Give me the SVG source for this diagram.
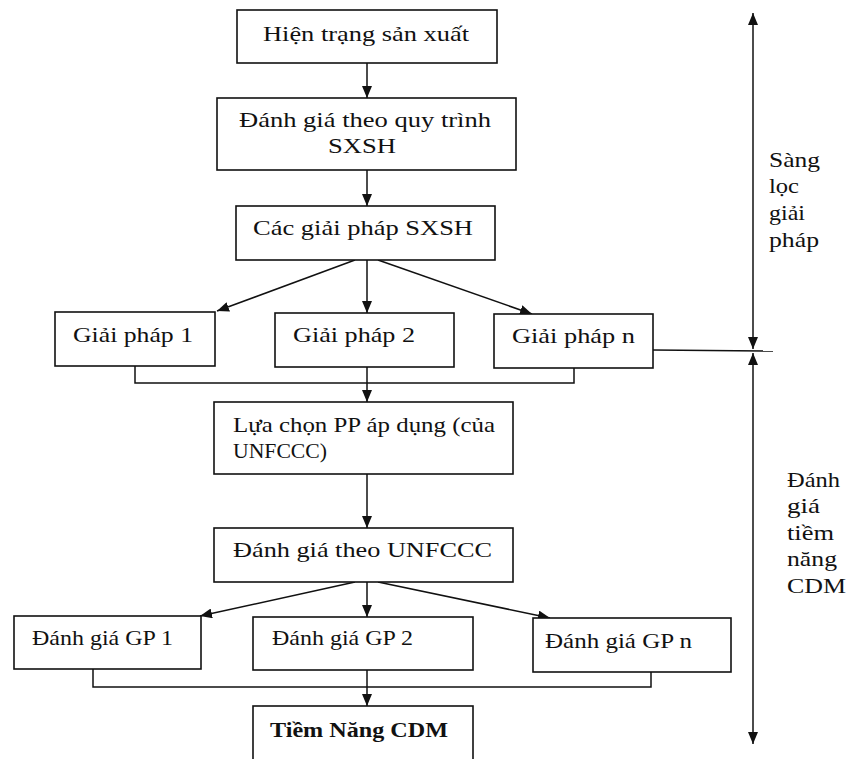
<svg xmlns="http://www.w3.org/2000/svg" width="849" height="759" viewBox="0 0 849 759">
<defs>
<style>
.box{fill:#fff;stroke:#111;stroke-width:1.6}
.t{font-family:"Liberation Serif","Times New Roman",serif;font-size:21px;fill:#111}
.b{font-weight:bold;font-size:22px}
.ln{fill:none;stroke:#111;stroke-width:1.5}
</style>
<marker id="ah" viewBox="0 0 12 10" refX="12" refY="5" markerWidth="12" markerHeight="10" markerUnits="userSpaceOnUse" orient="auto-start-reverse">
<path d="M0,0 L12,5 L0,10 Z" fill="#111"/>
</marker>
</defs>
<rect width="849" height="759" fill="#fff"/>

<g id="connectors">
<line class="ln" x1="367" y1="63" x2="367" y2="98" marker-end="url(#ah)"/>
<line class="ln" x1="367" y1="170" x2="367" y2="206" marker-end="url(#ah)"/>
<line class="ln" x1="355" y1="260" x2="217" y2="311" marker-end="url(#ah)"/>
<line class="ln" x1="367" y1="260" x2="367" y2="313" marker-end="url(#ah)"/>
<line class="ln" x1="378" y1="260" x2="532" y2="314" marker-end="url(#ah)"/>
<polyline class="ln" points="135,366 135,383 574,383 574,368"/>
<line class="ln" x1="367" y1="367" x2="367" y2="402" marker-end="url(#ah)"/>
<line class="ln" x1="367" y1="474" x2="367" y2="528" marker-end="url(#ah)"/>
<line class="ln" x1="355" y1="582" x2="200" y2="616" marker-end="url(#ah)"/>
<line class="ln" x1="367" y1="582" x2="367" y2="617" marker-end="url(#ah)"/>
<line class="ln" x1="378" y1="582" x2="550" y2="618" marker-end="url(#ah)"/>
<polyline class="ln" points="93,669 93,687 651,687 651,672"/>
<line class="ln" x1="367" y1="670" x2="367" y2="706" marker-end="url(#ah)"/>
<line class="ln" x1="653" y1="350" x2="773" y2="351"/>
<line class="ln" x1="753" y1="13" x2="753" y2="349" marker-start="url(#ah)" marker-end="url(#ah)"/>
<line class="ln" x1="753" y1="353" x2="753" y2="744" marker-start="url(#ah)" marker-end="url(#ah)"/>
</g>

<g id="n1"><rect class="box" x="237" y="10" width="260" height="53"/><text class="t" x="263" y="41" textLength="206" lengthAdjust="spacingAndGlyphs">Hiện trạng sản xuất</text></g>
<g id="n2"><rect class="box" x="217" y="98" width="299" height="72"/><text class="t" x="239" y="127" textLength="252" lengthAdjust="spacingAndGlyphs">Đánh giá theo quy trình</text><text class="t" x="328" y="153" textLength="68" lengthAdjust="spacingAndGlyphs">SXSH</text></g>
<g id="n3"><rect class="box" x="236" y="206" width="259" height="54"/><text class="t" x="253" y="235" textLength="220" lengthAdjust="spacingAndGlyphs">Các giải pháp SXSH</text></g>
<g id="gp1"><rect class="box" x="55" y="312" width="160" height="54"/><text class="t" x="73" y="342" textLength="120" lengthAdjust="spacingAndGlyphs">Giải pháp 1</text></g>
<g id="gp2"><rect class="box" x="275" y="313" width="179" height="54"/><text class="t" x="293" y="342" textLength="122" lengthAdjust="spacingAndGlyphs">Giải pháp 2</text></g>
<g id="gpn"><rect class="box" x="494" y="314" width="159" height="54"/><text class="t" x="512" y="343" textLength="123" lengthAdjust="spacingAndGlyphs">Giải pháp n</text></g>
<g id="n4"><rect class="box" x="214" y="402" width="299" height="72"/><text class="t" x="233" y="432" textLength="262" lengthAdjust="spacingAndGlyphs">Lựa chọn PP áp dụng (của</text><text class="t" x="233" y="458" textLength="94" lengthAdjust="spacingAndGlyphs">UNFCCC)</text></g>
<g id="n5"><rect class="box" x="214" y="528" width="299" height="54"/><text class="t" x="233" y="557" textLength="259" lengthAdjust="spacingAndGlyphs">Đánh giá theo UNFCCC</text></g>
<g id="dg1"><rect class="box" x="14" y="616" width="187" height="53"/><text class="t" x="32" y="645" textLength="141" lengthAdjust="spacingAndGlyphs">Đánh giá GP 1</text></g>
<g id="dg2"><rect class="box" x="253" y="617" width="220" height="53"/><text class="t" x="272" y="645" textLength="141" lengthAdjust="spacingAndGlyphs">Đánh giá GP 2</text></g>
<g id="dgn"><rect class="box" x="533" y="618" width="198" height="54"/><text class="t" x="545" y="648" textLength="147" lengthAdjust="spacingAndGlyphs">Đánh giá GP n</text></g>
<g id="n6"><rect class="box" x="253" y="706" width="220" height="60"/><text class="t b" x="270" y="737" textLength="178" lengthAdjust="spacingAndGlyphs">Tiềm Năng CDM</text></g>

<g id="label1"><text class="t" x="769" y="167" textLength="51" lengthAdjust="spacingAndGlyphs">Sàng</text><text class="t" x="769" y="193" textLength="30" lengthAdjust="spacingAndGlyphs">lọc</text><text class="t" x="769" y="220" textLength="36" lengthAdjust="spacingAndGlyphs">giải</text><text class="t" x="769" y="247" textLength="50" lengthAdjust="spacingAndGlyphs">pháp</text></g>
<g id="label2"><text class="t" x="787" y="487" textLength="53" lengthAdjust="spacingAndGlyphs">Đánh</text><text class="t" x="787" y="513" textLength="33" lengthAdjust="spacingAndGlyphs">giá</text><text class="t" x="787" y="540" textLength="47" lengthAdjust="spacingAndGlyphs">tiềm</text><text class="t" x="787" y="566" textLength="50" lengthAdjust="spacingAndGlyphs">năng</text><text class="t" x="787" y="593" textLength="59" lengthAdjust="spacingAndGlyphs">CDM</text></g>
</svg>
